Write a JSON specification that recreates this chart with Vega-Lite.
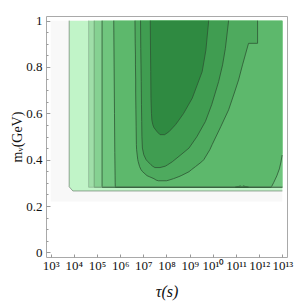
{
  "$schema": "https://vega.github.io/schema/vega-lite/v6.json",
  "width": 241,
  "height": 241,
  "autosize": {"type": "none"},
  "padding": {"left": 46, "top": 16, "right": 10, "bottom": 47},
  "background": "#ffffff",
  "config": {"view": {"stroke": "#a9a9a9", "strokeWidth": 1}, "axis": {"grid": false, "domain": false}},
  "data": {"values": [
    {"r": "r0", "m": 0.219, "tau": 1000, "tau2": 1e13},
    {"r": "r0", "m": 1.0, "tau": 1000, "tau2": 1e13},
    {"r": "r1", "m": 0.265, "tau": 9120, "tau2": 1e13},
    {"r": "r1", "m": 0.283, "tau": 6310, "tau2": 1e13},
    {"r": "r1", "m": 1.0, "tau": 6310, "tau2": 1e13},
    {"r": "r2", "m": 0.281, "tau": 43650, "tau2": 1e13},
    {"r": "r2", "m": 1.0, "tau": 43650, "tau2": 1e13},
    {"r": "r3", "m": 0.281, "tau": 75860, "tau2": 1e13},
    {"r": "r3", "m": 1.0, "tau": 75860, "tau2": 1e13},
    {"r": "r4", "m": 0.281, "tau": 165960, "tau2": 1e13},
    {"r": "r4", "m": 1.0, "tau": 165960, "tau2": 1e13},
    {"r": "r5", "m": 0.281, "tau": 616600, "tau2": 3.311e12},
    {"r": "r5", "m": 0.30, "tau": 610000, "tau2": 4.169e12},
    {"r": "r5", "m": 0.33, "tau": 605000, "tau2": 5.754e12},
    {"r": "r5", "m": 0.36, "tau": 600000, "tau2": 7.413e12},
    {"r": "r5", "m": 0.39, "tau": 595000, "tau2": 8.71e12},
    {"r": "r5", "m": 0.42, "tau": 590000, "tau2": 9.772e12},
    {"r": "r5", "m": 0.43, "tau": 588000, "tau2": 1e13},
    {"r": "r5", "m": 0.6, "tau": 570000, "tau2": 1e13},
    {"r": "r5", "m": 1.0, "tau": 530000, "tau2": 1e13},
    {"r": "r6", "m": 0.309, "tau": 4.467e7, "tau2": 1e8},
    {"r": "r6", "m": 0.312, "tau": 3.548e7, "tau2": 1.288e8},
    {"r": "r6", "m": 0.318, "tau": 2.884e7, "tau2": 1.995e8},
    {"r": "r6", "m": 0.327, "tau": 1.778e7, "tau2": 3.467e8},
    {"r": "r6", "m": 0.331, "tau": 1.445e7, "tau2": 4.266e8},
    {"r": "r6", "m": 0.348, "tau": 9.333e6, "tau2": 9.333e8},
    {"r": "r6", "m": 0.357, "tau": 7.943e6, "tau2": 1.202e9},
    {"r": "r6", "m": 0.37, "tau": 6.918e6, "tau2": 1.778e9},
    {"r": "r6", "m": 0.391, "tau": 6.026e6, "tau2": 3.311e9},
    {"r": "r6", "m": 0.4, "tau": 5.754e6, "tau2": 4.074e9},
    {"r": "r6", "m": 0.443, "tau": 5.129e6, "tau2": 7.413e9},
    {"r": "r6", "m": 0.465, "tau": 5.012e6, "tau2": 9.333e9},
    {"r": "r6", "m": 0.542, "tau": 4.898e6, "tau2": 2.188e10},
    {"r": "r6", "m": 0.615, "tau": 4.786e6, "tau2": 4.786e10},
    {"r": "r6", "m": 0.692, "tau": 4.677e6, "tau2": 8.71e10},
    {"r": "r6", "m": 0.744, "tau": 4.677e6, "tau2": 1.288e11},
    {"r": "r6", "m": 0.809, "tau": 4.571e6, "tau2": 1.905e11},
    {"r": "r6", "m": 0.852, "tau": 4.571e6, "tau2": 2.512e11},
    {"r": "r6", "m": 0.902, "tau": 4.467e6, "tau2": 3.467e11},
    {"r": "r6", "m": 0.9021, "tau": 4.467e6, "tau2": 8.511e11},
    {"r": "r6", "m": 1.0, "tau": 4.365e6, "tau2": 8.511e11},
    {"r": "r7", "m": 0.366, "tau": 3.162e7, "tau2": 5.248e7},
    {"r": "r7", "m": 0.372, "tau": 2.512e7, "tau2": 8.913e7},
    {"r": "r7", "m": 0.378, "tau": 2.138e7, "tau2": 1.122e8},
    {"r": "r7", "m": 0.391, "tau": 1.585e7, "tau2": 1.778e8},
    {"r": "r7", "m": 0.4, "tau": 1.318e7, "tau2": 2.291e8},
    {"r": "r7", "m": 0.421, "tau": 1.047e7, "tau2": 4.169e8},
    {"r": "r7", "m": 0.45, "tau": 9.12e6, "tau2": 9.333e8},
    {"r": "r7", "m": 0.499, "tau": 8.71e6, "tau2": 2.042e9},
    {"r": "r7", "m": 0.565, "tau": 8.511e6, "tau2": 4.786e9},
    {"r": "r7", "m": 0.637, "tau": 8.318e6, "tau2": 8.913e9},
    {"r": "r7", "m": 0.737, "tau": 8.128e6, "tau2": 1.778e10},
    {"r": "r7", "m": 0.809, "tau": 7.943e6, "tau2": 2.63e10},
    {"r": "r7", "m": 0.88, "tau": 7.762e6, "tau2": 3.467e10},
    {"r": "r7", "m": 1.0, "tau": 7.586e6, "tau2": 4.786e10},
    {"r": "r8", "m": 0.508, "tau": 5.248e7, "tau2": 8.318e7},
    {"r": "r8", "m": 0.52, "tau": 3.981e7, "tau2": 1.259e8},
    {"r": "r8", "m": 0.538, "tau": 2.884e7, "tau2": 1.862e8},
    {"r": "r8", "m": 0.551, "tau": 2.57e7, "tau2": 2.455e8},
    {"r": "r8", "m": 0.57, "tau": 2.344e7, "tau2": 3.388e8},
    {"r": "r8", "m": 0.6, "tau": 2.239e7, "tau2": 5.495e8},
    {"r": "r8", "m": 0.665, "tau": 2.138e7, "tau2": 1.288e9},
    {"r": "r8", "m": 0.78, "tau": 2.089e7, "tau2": 3.467e9},
    {"r": "r8", "m": 0.873, "tau": 2.042e7, "tau2": 5.012e9},
    {"r": "r8", "m": 1.0, "tau": 1.995e7, "tau2": 6.607e9},
    {"r": "r9", "m": 0.281, "tau": 9.333e10, "tau2": 3.467e11},
    {"r": "r9", "m": 0.2845, "tau": 1.288e11, "tau2": 2.512e11},
    {"r": "r9", "m": 0.287, "tau": 1.585e11, "tau2": 2.0e11}
  ]},
  "resolve": {"axis": {"x": "independent", "y": "independent"}},
  "layer": [
    {
      "mark": {"type": "area", "orient": "horizontal"},
      "encoding": {
        "y": {"field": "m", "type": "quantitative",
          "scale": {"domain": [-0.02, 1.02], "nice": false, "zero": false},
          "axis": {"orient": "left", "values": [0, 0.2, 0.4, 0.6, 0.8, 1], "format": ".1~f",
            "tickSize": -4, "tickColor": "#999999", "labelPadding": 8,
            "labelFont": "Liberation Serif", "labelFontSize": 13, "labelColor": "#111111",
            "title": "mᵥ(GeV)", "titleFont": "Liberation Serif", "titleFontSize": 14,
            "titleFontWeight": "normal", "titleColor": "#111111", "titlePadding": 1}},
        "x": {"field": "tau", "type": "quantitative",
          "scale": {"type": "log", "domain": [631, 1.585e13], "nice": false},
          "axis": {"orient": "bottom", "values": [1e3, 1e4, 1e5, 1e6, 1e7, 1e8, 1e9, 1e10, 1e11, 1e12, 1e13],
            "labelExpr": "'10' + ['³','⁴','⁵','⁶','⁷','⁸','⁹','¹⁰','¹¹','¹²','¹³'][round(log(datum.value)/LN10) - 3]",
            "tickSize": -3, "tickColor": "#999999", "labelPadding": 5, "labelOverlap": false, "labelFlush": false,
            "labelFont": "Liberation Serif", "labelFontSize": 13, "labelColor": "#111111",
            "title": "τ(s)", "titleFont": "Liberation Serif", "titleFontSize": 16, "titleFontStyle": "italic",
            "titleFontWeight": "normal", "titleColor": "#111111", "titlePadding": 11}},
        "x2": {"field": "tau2"},
        "fill": {"field": "r", "type": "nominal", "legend": null,
          "scale": {"domain": ["r0","r1","r2","r3","r4","r5","r6","r7","r8","r9"],
            "range": ["#f8f8f8","#c1f4c8","#9fdea8","#86d192","#70c57e","#5db86c","#4eaa5e","#409d51","#2f8a41","#4eaa5e"]}}
      }
    },
    {
      "transform": [
        {"filter": "datum.r != 'r0'"},
        {"fold": ["tau", "tau2"], "as": ["side", "t"]},
        {"filter": "datum.t < 9.99e12"}
      ],
      "mark": {"type": "line", "strokeWidth": 0.8},
      "encoding": {
        "x": {"field": "t", "type": "quantitative", "axis": null},
        "y": {"field": "m", "type": "quantitative", "axis": null},
        "stroke": {"field": "r", "type": "nominal", "legend": null,
          "scale": {"domain": ["r0","r1","r2","r3","r4","r5","r6","r7","r8","r9"],
            "range": ["transparent","#7a8f7c","#8fb895","#6c9a72","#2d5533","#2d5533","#2d5533","#2d5533","#2d5533","#2d5533"]}},
        "detail": {"field": "side"},
        "order": {"field": "m", "type": "quantitative"}
      }
    },
    {
      "transform": [
        {"joinaggregate": [{"op": "min", "field": "m", "as": "mmin"}], "groupby": ["r"]},
        {"filter": "datum.m == datum.mmin && datum.r != 'r0'"}
      ],
      "mark": {"type": "rule", "strokeWidth": 0.8},
      "encoding": {
        "x": {"field": "tau", "type": "quantitative", "axis": null},
        "x2": {"field": "tau2"},
        "y": {"field": "m", "type": "quantitative",
          "axis": {"orient": "left", "values": [0.05,0.1,0.15,0.25,0.3,0.35,0.45,0.5,0.55,0.65,0.7,0.75,0.85,0.9,0.95],
            "labels": false, "tickSize": -2, "tickColor": "#999999", "title": null}},
        "stroke": {"field": "r", "type": "nominal", "legend": null}
      }
    }
  ]
}
